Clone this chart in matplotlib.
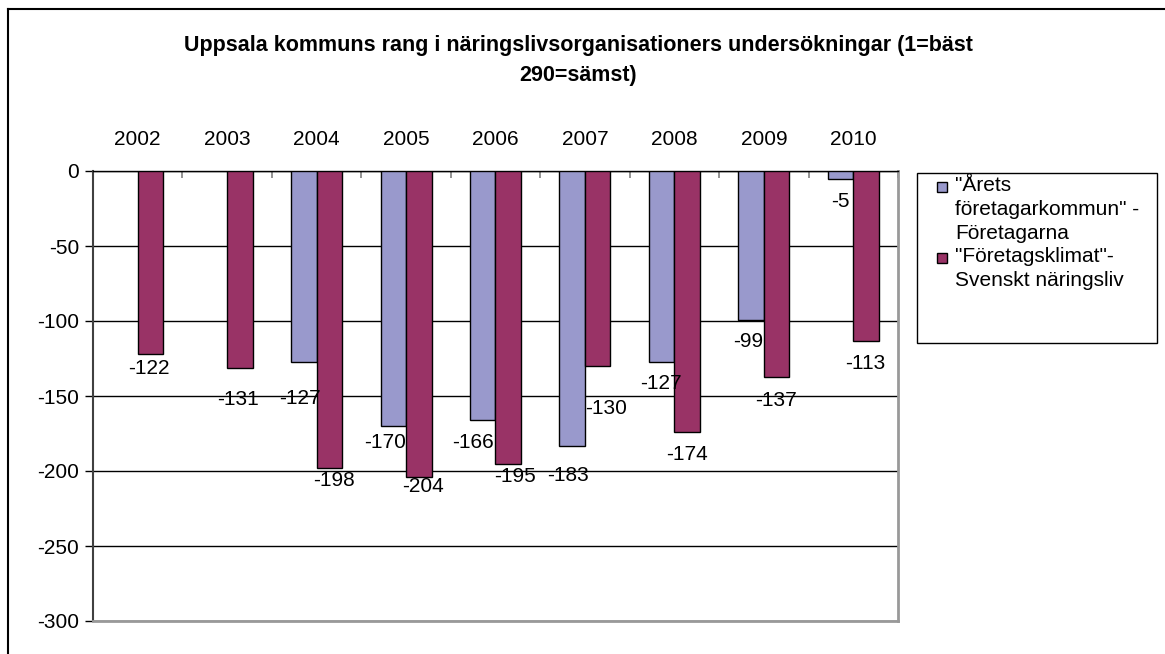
import numpy as np
import matplotlib
matplotlib.use('Agg')
import matplotlib.pyplot as plt
from matplotlib.patches import Rectangle
from matplotlib.lines import Line2D

plt.rcParams['font.family'] = ['Liberation Sans', 'DejaVu Sans']
plt.rcParams['axes.unicode_minus'] = False

years = ['2002', '2003', '2004', '2005', '2006', '2007', '2008', '2009', '2010']
foretagarna = [np.nan, np.nan, -127, -170, -166, -183, -127, -99, -5]
svenskt = [-122, -131, -198, -204, -195, -130, -174, -137, -113]
label_a = '"Årets\nföretagarkommun" -\nFöretagarna'
label_b = '"Företagsklimat"-\nSvenskt näringsliv'
title1 = 'Uppsala kommuns rang i näringslivsorganisationers undersökningar (1=bäst'
title2 = '290=sämst)'

# label offsets in pixels (dx, dy from bar end), as placed in the original
off_a = [(0, 0), (0, 0), (-4, -37), (-8, -16), (-10, -23), (-4, -30), (-1, -22), (-3, -22), (0, -23)]
off_b = [(-2, -15), (-2, -32), (5, -12), (4, -10), (7, -13), (8, -42), (0, -23), (-1, -24), (-1, -23)]

c_a = '#9999CC'
c_b = '#993366'

W, H = 1165, 654
fig = plt.figure(figsize=(W / 100, H / 100), dpi=100)
ax = fig.add_axes([93 / W, 1 - 621 / H, (898 - 93) / W, (621 - 171) / H])

x = np.arange(len(years))
bw = 1 / 3.5
ax.bar(x - bw / 2, foretagarna, bw, color=c_a, edgecolor='black', linewidth=1, zorder=3)
ax.bar(x + bw / 2, svenskt, bw, color=c_b, edgecolor='black', linewidth=1, zorder=3)

for i in range(len(years)):
    if not np.isnan(foretagarna[i]):
        ax.annotate(str(int(foretagarna[i])), (x[i] - bw / 2, foretagarna[i]),
                    xytext=off_a[i], textcoords='offset pixels',
                    ha='center', va='center', fontsize=15, zorder=4)
    ax.annotate(str(int(svenskt[i])), (x[i] + bw / 2, svenskt[i]),
                xytext=off_b[i], textcoords='offset pixels',
                ha='center', va='center', fontsize=15, zorder=4)

ax.set_xlim(-0.5, len(years) - 0.5)
ax.set_ylim(-300, 0)
ax.set_yticks(np.arange(-300, 1, 50))
ax.tick_params(axis='y', direction='out', length=6, width=1, color='black',
               labelsize=15, pad=4)
ax.grid(axis='y', color='black', linewidth=1, zorder=1)

ax.xaxis.tick_top()
ax.set_xticks(x)
ax.set_xticklabels(years)
ax.set_xticks(np.arange(-0.5, len(years), 1), minor=True)
ax.tick_params(axis='x', which='major', length=0, labelsize=15, pad=16)
ax.tick_params(axis='x', which='minor', direction='in', length=5, width=1.2, color='#808080')

ax.spines['left'].set_color('#404040')
ax.spines['left'].set_linewidth(1.5)
ax.spines['top'].set_color('black')
ax.spines['top'].set_linewidth(1)
for s in ['right', 'bottom']:
    ax.spines[s].set_color('#999999')
    ax.spines[s].set_linewidth(2)

fig.text(578 / W, 1 - 45 / H, title1, ha='center', va='center', fontsize=15.5, fontweight='bold')
fig.text(578 / W, 1 - 75 / H, title2, ha='center', va='center', fontsize=15.5, fontweight='bold')

# legend box, drawn by hand so the markers sit on the first line of each entry
fig.patches.append(Rectangle((917 / W, 1 - 343 / H), (1157 - 917) / W, (343 - 173) / H,
                             transform=fig.transFigure, fill=False, edgecolor='black', linewidth=1))
for col, lab, ytop in [(c_a, label_a, 176), (c_b, label_b, 247)]:
    fig.patches.append(Rectangle((937 / W, 1 - (ytop + 16) / H), 10 / W, 10 / H,
                                 transform=fig.transFigure, facecolor=col,
                                 edgecolor='black', linewidth=1))
    fig.text(955 / W, 1 - ytop / H, lab, ha='left', va='top', fontsize=15, linespacing=1.32)

# outer border of chart
fig.add_artist(Line2D([8 / W, 1], [1 - 9 / H, 1 - 9 / H], transform=fig.transFigure,
                      color='black', linewidth=1.5))
fig.add_artist(Line2D([8 / W, 8 / W], [0, 1 - 9 / H], transform=fig.transFigure,
                      color='black', linewidth=1.5))

fig.savefig('out.png', dpi=100)
